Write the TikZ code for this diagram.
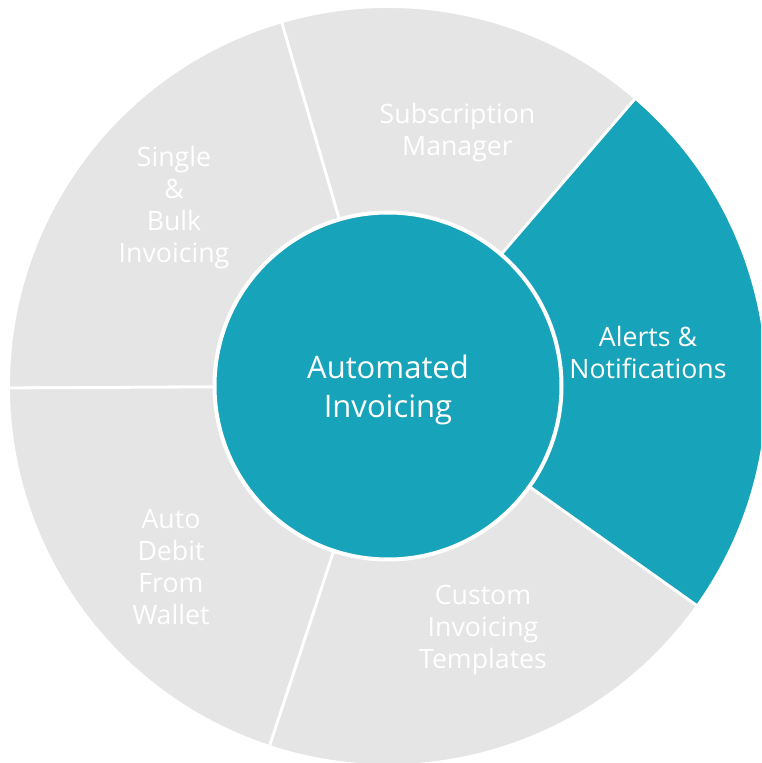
\documentclass[tikz,border=0pt]{standalone}
\usepackage{fontspec}
\setmainfont{Open Sans}
\definecolor{teal1}{HTML}{17A3B9}
\definecolor{grey1}{HTML}{E5E5E5}
\tikzset{
  x=1pt,y=1pt,
  wedgeshape/.style={fill=#1,draw=white,line width=2.8pt,line join=round},
  seclabel/.style={text=white,align=center,font=\fontsize{26.7}{32}\selectfont,inner sep=0pt},
  corelabel/.style={text=white,align=center,font=\fontsize{31}{38.5}\selectfont,inner sep=0pt}
}
\newcommand{\sector}[3]{\path[wedgeshape=#3] (#1:172) -- (#1:379.5) arc[start angle=#1,end angle=#2,radius=379.5] -- (#2:172) arc[start angle=#2,end angle=#1,radius=172] -- cycle;}
\begin{document}
\begin{tikzpicture}
\useasboundingbox (-388,-377) rectangle (373,386);
\begin{scope}
\clip (-388,-377) rectangle (373,386);
\sector{49.3}{106.3}{grey1}
\sector{106.3}{180.3}{grey1}
\sector{180.3}{251.8}{grey1}
\sector{251.8}{324.6}{grey1}
\sector{-35.4}{49.3}{teal1}
\end{scope}
\node[circle,fill=teal1,draw=white,line width=4pt,minimum size=347pt,inner sep=0pt] (core) at (0,0) {};
\node[corelabel] (coretext) at (0,-4) {Automated\\Invoicing};
\node[seclabel] (sub) at (69.5,253) {Subscription\\Manager};
\node[seclabel] (alerts) at (260,34) {Alerts \&\\Notifications};
\node[seclabel] (custom) at (95,-244) {Custom\\Invoicing\\Templates};
\node[seclabel] (auto) at (-217,-181) {Auto\\Debit\\From\\Wallet};
\node[seclabel] (single) at (-214,178) {Single\\\&\\Bulk\\Invoicing};
\end{tikzpicture}
\end{document}
